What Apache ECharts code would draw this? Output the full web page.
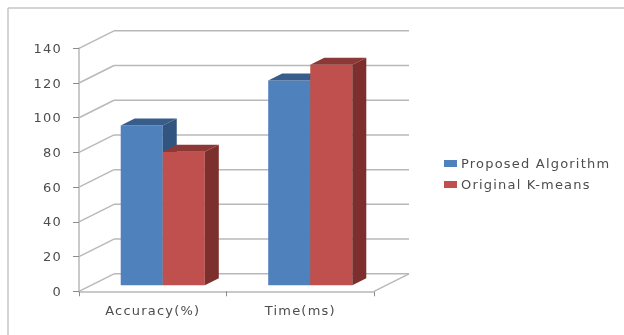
<!DOCTYPE html>
<html>
<head>
<meta charset="utf-8">
<style>
  html,body{margin:0;padding:0;background:#fff;overflow:hidden}
  #chart{width:624px;height:335px;filter:blur(.6px)}
  /* the source text is stretched wide */
  #chart text{letter-spacing:1.2px}
</style>
<script src="https://cdn.jsdelivr.net/npm/echarts@6/dist/echarts.min.js"></script>
</head>
<body>
<div id="chart"></div>
<script>
var categories = ['Accuracy(%)', 'Time(ms)'];
var proposed = [92, 118];
var original = [77, 127];
var gridTicks = [0, 20, 40, 60, 80, 100, 120, 140];

// fake 3D: wall depth, bar depth, bar shift inside its band
var WALL_DX = 35, WALL_DY = -17.5;
var BAR_DX = 14, BAR_DY = -7;
var BAR_SHIFT_X = 10, BAR_SHIFT_Y = -6;
var BAR_RATIO = 0.285;
var LINE = '#b8b8b8';

var chart = echarts.init(document.getElementById('chart'), null, {renderer:'svg'});

function wallItem(params, api){
  var cs = params.coordSys;
  var p = api.coord([0, api.value(0)]);
  var y = p[1], x0 = cs.x, x1 = cs.x + cs.width;
  var st = {stroke:LINE, lineWidth:1.5, fill:null};
  var kids = [
    {type:'line', shape:{x1:x0, y1:y, x2:x0 + WALL_DX, y2:y + WALL_DY}, style:st},
    {type:'line', shape:{x1:x0 + WALL_DX, y1:y + WALL_DY, x2:x1 + WALL_DX, y2:y + WALL_DY}, style:st}
  ];
  if(api.value(0) === 0){
    kids.push({type:'line', shape:{x1:x1, y1:y, x2:x1 + WALL_DX, y2:y + WALL_DY}, style:st});
  }
  return {type:'group', children:kids};
}

function poly(points, fill){
  return {type:'polygon', shape:{points:points}, style:{fill:fill, stroke:null}};
}

// side = -1 left bar of the pair, 0 right bar
function barItem(side, front, top, right){
  return function(params, api){
    var c = api.coord([api.value(0), api.value(1)]);
    var base = api.coord([api.value(0), 0]);
    var w = api.size([1, 0])[0] * BAR_RATIO;
    var x0 = c[0] + BAR_SHIFT_X + side * w, x1 = x0 + w;
    var y0 = c[1] + BAR_SHIFT_Y, y1 = base[1] + BAR_SHIFT_Y;
    return {type:'group', children:[
      poly([[x0,y0],[x1,y0],[x1,y1],[x0,y1]], front),
      poly([[x0,y0],[x0 + BAR_DX,y0 + BAR_DY],[x1 + BAR_DX,y0 + BAR_DY],[x1,y0]], top),
      poly([[x1,y0],[x1 + BAR_DX,y0 + BAR_DY],[x1 + BAR_DX,y1 + BAR_DY],[x1,y1]], right)
    ]};
  };
}

function pairs(values){
  return values.map(function(v, i){ return [i, v]; });
}

chart.setOption({
  backgroundColor:'#fff',
  animation:false,
  textStyle:{fontFamily:'DejaVu Sans'},
  grid:{left:79, width:295, top:48.3, height:243},
  legend:{
    data:['Proposed Algorithm', 'Original K-means'],
    orient:'vertical', left:439, top:151,
    icon:'rect', itemWidth:13, itemHeight:7, itemGap:6,
    textStyle:{fontFamily:'DejaVu Sans', fontSize:13, lineHeight:15, color:'#4d4d4d', padding:[0,0,0,-1]}
  },
  xAxis:{
    type:'category', data:categories,
    axisLine:{lineStyle:{color:LINE, width:1.5}},
    axisTick:{show:true, length:5, lineStyle:{color:'#8c8c8c', width:1}},
    axisLabel:{fontSize:13, color:'#4d4d4d', margin:13},
    splitLine:{show:false}
  },
  yAxis:{
    type:'value', min:0, max:140, interval:20,
    axisLine:{show:true, lineStyle:{color:LINE, width:1.5}},
    axisTick:{show:true, length:6, lineStyle:{color:'#8c8c8c', width:1}},
    axisLabel:{fontSize:13, color:'#4d4d4d', margin:17},
    splitLine:{show:false}
  },
  graphic:[
    {type:'line', silent:true, shape:{x1:8, y1:8, x2:624, y2:8}, style:{stroke:'#c6c6c6', lineWidth:1.5}},
    {type:'line', silent:true, shape:{x1:8, y1:8, x2:8, y2:335}, style:{stroke:'#c6c6c6', lineWidth:1.5}}
  ],
  series:[
    {type:'custom', name:'walls', silent:true, clip:false, z:1, renderItem:wallItem,
     encode:{y:0}, data:gridTicks.map(function(t){ return [t]; })},
    {type:'custom', name:'Proposed Algorithm', clip:false, z:2, itemStyle:{color:'#4f81bd'},
     renderItem:barItem(-1, '#4f81bd', '#385d8a', '#31557f'),
     encode:{x:0, y:1}, data:pairs(proposed)},
    {type:'custom', name:'Original K-means', clip:false, z:3, itemStyle:{color:'#c0504d'},
     renderItem:barItem(0, '#c0504d', '#8c3836', '#7d2f2d'),
     encode:{x:0, y:1}, data:pairs(original)}
  ]
});
</script>
</body>
</html>
